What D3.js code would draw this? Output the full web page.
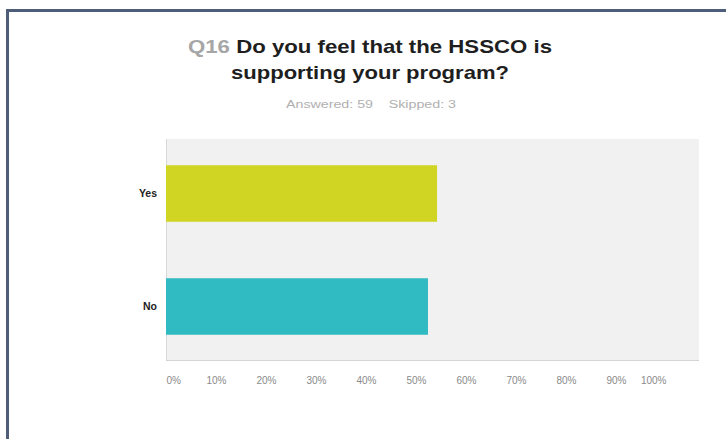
<!DOCTYPE html>
<html>
<head>
<meta charset="utf-8">
<script src="https://cdn.jsdelivr.net/npm/d3@7"></script>
<style>
  html, body { margin: 0; padding: 0; background: #fff; }
  svg { display: block; }
</style>
</head>
<body>
<svg id="chart" width="726" height="439"></svg>
<script>
// Survey question Q16 — share of responses per answer choice (%)
const categories = ["Yes", "No"];
const values = [50.85, 49.15];
const barColors = ["#cfd522", "#30bac1"];
const tickValues = [0, 10, 20, 30, 40, 50, 60, 70, 80, 90, 100];
const tickLabels = ["0%", "10%", "20%", "30%", "40%", "50%", "60%", "70%", "80%", "90%", "100%"];
const questionNo = "Q16";
const titleLines = ["Do you feel that the HSSCO is", "supporting your program?"];
const subtitle = "Answered: 59    Skipped: 3";

const svg = d3.select("#chart");
const font = "Arial, 'Liberation Sans', sans-serif";

// outer frame
svg.append("path")
  .attr("d", "M7.5,440 V10.5 H728")
  .attr("fill", "none")
  .attr("stroke", "#4d5d7a")
  .attr("stroke-width", 3);

// scales
const x = d3.scaleLinear().domain([0, 100]).range([166, 699]);
const xLabel = d3.scaleLinear().domain([0, 100]).range([166, 666]);
const y = d3.scaleBand().domain(categories).range([137, 363])
  .paddingInner(0.5).paddingOuter(0.25);

// plot background
svg.append("rect")
  .attr("x", x(0)).attr("y", 139)
  .attr("width", x(100) - x(0)).attr("height", 221)
  .attr("fill", "#f1f1f1");

// left axis rule
svg.append("line")
  .attr("x1", x(0) + 0.5).attr("x2", x(0) + 0.5)
  .attr("y1", 139).attr("y2", 360)
  .attr("stroke", "#d8d8d8");

// bars
svg.selectAll("rect.bar")
  .data(categories)
  .join("rect")
  .attr("class", "bar")
  .attr("x", x(0))
  .attr("y", d => y(d))
  .attr("width", (d, i) => x(values[i]) - x(0))
  .attr("height", y.bandwidth())
  .attr("fill", (d, i) => barColors[i]);

// bottom axis line
svg.append("line")
  .attr("x1", x(0)).attr("x2", x(100))
  .attr("y1", 360.5).attr("y2", 360.5)
  .attr("stroke", "#d4d4d4");

// percentage tick labels
const xAxis = d3.axisBottom(xLabel)
  .tickValues(tickValues)
  .tickFormat((d, i) => tickLabels[i])
  .tickSize(0)
  .tickPadding(0);
const gx = svg.append("g")
  .attr("transform", "translate(0,377)")
  .call(xAxis);
gx.select(".domain").remove();
gx.selectAll("text")
  .attr("font-family", font)
  .attr("font-size", 10)
  .attr("fill", "#8a8a8a")
  .attr("text-anchor", (d, i) => i === 0 ? "start" : (i === tickValues.length - 1 ? "end" : "middle"));

// category labels
const yAxis = d3.axisLeft(y).tickSize(0).tickPadding(0);
const gy = svg.append("g")
  .attr("transform", "translate(157,0)")
  .call(yAxis);
gy.select(".domain").remove();
gy.selectAll("text")
  .attr("font-family", font)
  .attr("font-size", 10.5)
  .attr("font-weight", "bold")
  .attr("fill", "#222");

// title, stretched to its set width
const title = svg.append("text")
  .attr("x", 370).attr("y", 53)
  .attr("text-anchor", "middle")
  .attr("font-family", font)
  .attr("font-size", 18.5)
  .attr("font-weight", "bold")
  .attr("fill", "#1e1e1e")
  .attr("textLength", 364)
  .attr("lengthAdjust", "spacingAndGlyphs");
title.append("tspan").attr("fill", "#a6a6a6").text(questionNo + " ");
title.append("tspan").text(titleLines[0]);
svg.append("text")
  .attr("x", 370).attr("y", 79)
  .attr("text-anchor", "middle")
  .attr("font-family", font)
  .attr("font-size", 18.5)
  .attr("font-weight", "bold")
  .attr("fill", "#1e1e1e")
  .attr("textLength", 278)
  .attr("lengthAdjust", "spacingAndGlyphs")
  .text(titleLines[1]);

// response counts
svg.append("text")
  .attr("x", 371).attr("y", 108)
  .attr("text-anchor", "middle")
  .attr("font-family", font)
  .attr("font-size", 10)
  .attr("fill", "#b0b0b0")
  .attr("xml:space", "preserve")
  .attr("textLength", 170)
  .attr("lengthAdjust", "spacingAndGlyphs")
  .text(subtitle);
</script>
</body>
</html>
